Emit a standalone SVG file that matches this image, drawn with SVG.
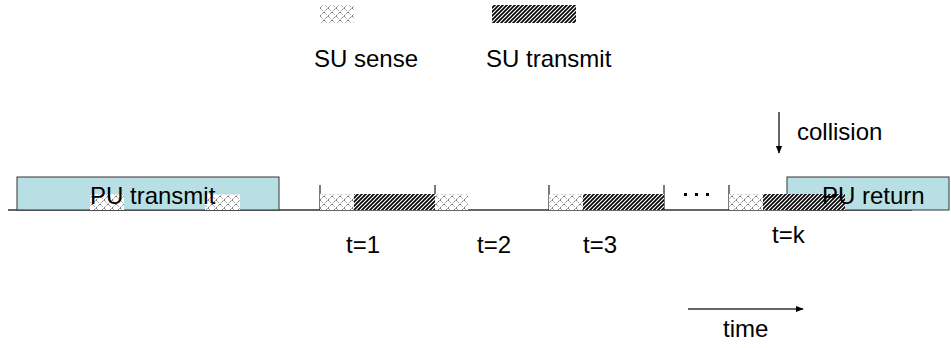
<svg xmlns="http://www.w3.org/2000/svg" width="951" height="348" viewBox="0 0 951 348">
<defs>
<pattern id="sense" patternUnits="userSpaceOnUse" width="8" height="8">
<rect width="8" height="8" fill="#fff"/>
<path d="M0,8 L8,0 M0,0 L3,3 M4,4 L7,7 M-1,7 L0,8 M8,8 L9,9" stroke="#7a7a7a" stroke-width="1" fill="none" stroke-dasharray="1.5,0.6"/>
</pattern>
<pattern id="tx" patternUnits="userSpaceOnUse" width="4" height="4">
<rect width="4" height="4" fill="#fff"/>
<path d="M-1,5 L5,-1 M-1,1 L1,-1 M3,5 L5,3" stroke="#000" stroke-width="1.6"/>
</pattern>
<marker id="ah" viewBox="0 0 10 10" refX="9" refY="5" markerWidth="8" markerHeight="8" orient="auto" markerUnits="userSpaceOnUse">
<path d="M0,1 L10,5 L0,9 z" fill="#000"/>
</marker>
</defs>
<style>
text { font-family: "Liberation Sans", Arial, sans-serif; font-size: 24px; fill: #000; }
.box { fill: #b8e0e4; stroke: #333; stroke-width: 1; }
.sense { fill: url(#sense); }
.tx { fill: url(#tx); }
.tick { stroke: #222; stroke-width: 1.2; }
</style>
<g id="legend">
<rect class="sense" x="320" y="5" width="34" height="18"/>
<rect class="tx" x="492" y="5" width="84" height="18"/>
<text x="314" y="67">SU sense</text>
<text x="486" y="67">SU transmit</text>
</g>
<g id="connectors">
<line x1="8" y1="210" x2="912" y2="210" stroke="#333" stroke-width="1.5"/>
<line x1="779" y1="112" x2="779" y2="153" stroke="#000" stroke-width="1.2" marker-end="url(#ah)"/>
<line x1="688" y1="309" x2="803" y2="309" stroke="#333" stroke-width="1.5" marker-end="url(#ah)"/>
</g>
<g id="pu-transmit">
<rect class="box" x="17" y="177" width="262" height="33"/>
<rect class="sense" x="90" y="194" width="34" height="16"/>
<rect class="sense" x="205" y="194" width="35" height="16"/>
<text x="90" y="204">PU transmit</text>
</g>
<g id="slot1">
<line class="tick" x1="320" y1="185" x2="320" y2="210"/>
<line class="tick" x1="435" y1="185" x2="435" y2="210"/>
<rect class="sense" x="320" y="194" width="34" height="16"/>
<rect class="tx" x="354" y="194" width="81" height="16"/>
<rect class="sense" x="435" y="194" width="33" height="16"/>
</g>
<g id="slot3">
<line class="tick" x1="549" y1="185" x2="549" y2="210"/>
<line class="tick" x1="664" y1="185" x2="664" y2="210"/>
<rect class="sense" x="549" y="194" width="34" height="16"/>
<rect class="tx" x="583" y="194" width="81" height="16"/>
</g>
<g id="dots">
<rect x="684" y="193" width="3" height="3" fill="#000"/>
<rect x="695" y="193" width="3" height="3" fill="#000"/>
<rect x="706" y="193" width="3" height="3" fill="#000"/>
</g>
<g id="pu-return">
<rect class="box" x="787" y="177" width="162" height="33"/>
<line class="tick" x1="729" y1="185" x2="729" y2="210"/>
<rect class="sense" x="729" y="194" width="34" height="16"/>
<rect class="tx" x="763" y="194" width="82" height="16"/>
<text x="822" y="204">PU return</text>
</g>
<g id="labels">
<text x="346" y="253">t=1</text>
<text x="477" y="253">t=2</text>
<text x="583" y="253">t=3</text>
<text x="772" y="243">t=k</text>
<text x="797" y="140">collision</text>
<text x="723" y="337">time</text>
</g>
</svg>
